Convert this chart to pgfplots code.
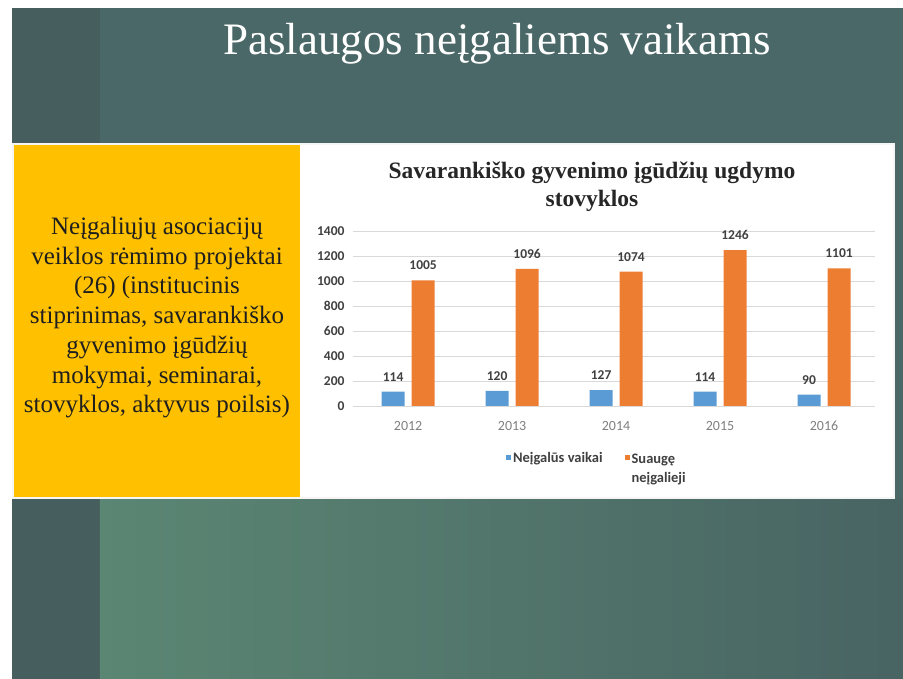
\documentclass[border=0pt]{standalone}
\usepackage{fontspec}
\setmainfont{Liberation Serif}
\newfontfamily\calibri{Carlito}
\usepackage{pgfplots}
\pgfplotsset{compat=1.18}
\usetikzlibrary{backgrounds}
\definecolor{slide}{HTML}{4A6867}
\definecolor{strip}{HTML}{465F5E}
\definecolor{botL}{HTML}{5B8673}
\definecolor{botR}{HTML}{486463}
\definecolor{ybox}{HTML}{FFC000}
\definecolor{cblue}{HTML}{5B9BD5}
\definecolor{corange}{HTML}{ED7D31}
\definecolor{lbl}{HTML}{404040}
\begin{document}
\begin{tikzpicture}[x=1pt,y=1pt]
\begin{axis}[
  scale only axis,
  width=522pt, height=175pt,
  xmin=-0.53, xmax=4.49, ymin=0, ymax=1400,
  axis line style={draw=none},
  ymajorgrids, grid style={draw=black!15, line width=0.8pt},
  ytick={0,200,...,1400},
  xtick={0,1,2,3,4}, xticklabels={2012,2013,2014,2015,2016},
  major tick length=0pt,
  /pgf/number format/assume math mode=true,
  /pgf/number format/1000 sep={},
  yticklabel style={font=\calibri\bfseries\fontsize{13.5}{15}\selectfont, text=lbl, xshift=-5pt},
  xticklabel style={font=\calibri\fontsize{14}{16}\selectfont, text=black!50, yshift=-12pt},
  ybar=7pt, bar width=23pt,
  nodes near coords,
  nodes near coords style={font=\calibri\bfseries\fontsize{13.5}{15}\selectfont, text=lbl, yshift=7pt,
     /pgf/number format/1000 sep={}, /pgf/number format/assume math mode=true},
  legend style={at={(rel axis cs:0.293,0)}, anchor=north west, yshift=-43pt, draw=none, fill=none,
     inner sep=0pt, font=\calibri\bfseries\fontsize{14.5}{17}\selectfont, text=lbl,
     /tikz/every even column/.append style={column sep=20pt}},
  legend columns=2,
  legend cell align=left,
  legend image code/.code={\fill[#1] (0pt,-2.5pt) rectangle (5pt,2.5pt);},
]
\coordinate (O) at (rel axis cs:0,0);
\addplot[fill=cblue, draw=none] coordinates {(0,114) (1,120) (2,127) (3,114) (4,90)};
\addlegendentry{Neįgalūs vaikai}
\addplot[fill=corange, draw=none] coordinates {(0,1005) (1,1096) (2,1074) (3,1246) (4,1101)};
\addlegendentry{\begin{tabular}[t]{@{}l@{}}Suaugę\\[2pt]neįgalieji\end{tabular}}
\end{axis}
\begin{scope}[on background layer, shift={(O)}, shift={(-353,-273)}]
\fill[white] (0,0) rectangle (903,679);
\fill[slide] (12,0) rectangle (903,671);
\fill[strip] (12,0) rectangle (100,671);
\shade[left color=botL, right color=botR] (100,0) rectangle (903,179);
% panel
\fill[white!92!gray] (12,180) rectangle (895,536);
\fill[white] (300,182) rectangle (893,534);
\fill[ybox] (14,182) rectangle (300,534);
% slide title
\node[anchor=base, text=white, font=\fontsize{45}{54}\selectfont] at (497,624) {Paslaugos neįgaliems vaikams};
% yellow text
\node[anchor=north, align=center, inner sep=0pt, text=black!88, font=\fontsize{25}{29.7}\selectfont] at (157,462)
{Neįgaliųjų asociacijų\\veiklos rėmimo projektai\\(26) (institucinis\\stiprinimas, savarankiško\\gyvenimo įgūdžių\\mokymai, seminarai,\\stovyklos, aktyvus poilsis)};
% chart title
\node[anchor=north, align=center, inner sep=0pt, text=black!85, font=\bfseries\fontsize{23.5}{28}\selectfont] at (592,517)
{Savarankiško gyvenimo įgūdžių ugdymo\\stovyklos};
\end{scope}
\end{tikzpicture}
\end{document}
